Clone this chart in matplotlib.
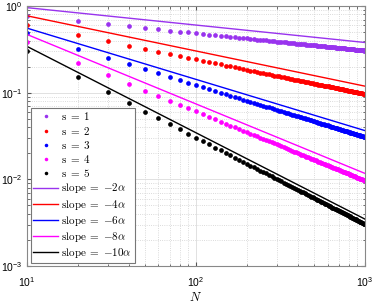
import matplotlib
matplotlib.use("Agg")
import matplotlib.pyplot as plt
from matplotlib.ticker import LogLocator, NullFormatter

plt.rcParams['font.family'] = ['Liberation Sans', 'DejaVu Sans']
plt.rcParams['mathtext.fontset'] = 'cm'

# N = 10, 20, ..., 1000
N = list(range(10, 1001, 10))

err_s1 = [0.770, 0.670, 0.618, 0.584, 0.558, 0.538, 0.522, 0.508, 0.496, 0.486,
          0.477, 0.468, 0.461, 0.454, 0.448, 0.442, 0.437, 0.432, 0.427, 0.423,
          0.419, 0.415, 0.411, 0.408, 0.404, 0.401, 0.398, 0.395, 0.393, 0.390,
          0.387, 0.385, 0.383, 0.380, 0.378, 0.376, 0.374, 0.372, 0.370, 0.368,
          0.366, 0.365, 0.363, 0.361, 0.360, 0.358, 0.357, 0.355, 0.354, 0.352,
          0.351, 0.349, 0.348, 0.347, 0.345, 0.344, 0.343, 0.342, 0.341, 0.340,
          0.338, 0.337, 0.336, 0.335, 0.334, 0.333, 0.332, 0.331, 0.330, 0.329,
          0.328, 0.327, 0.327, 0.326, 0.325, 0.324, 0.323, 0.322, 0.321, 0.321,
          0.320, 0.319, 0.318, 0.317, 0.317, 0.316, 0.315, 0.315, 0.314, 0.313,
          0.312, 0.312, 0.311, 0.310, 0.310, 0.309, 0.308, 0.308, 0.307, 0.307]

err_s2 = [0.609, 0.462, 0.392, 0.350, 0.320, 0.297, 0.280, 0.265, 0.253, 0.242,
          0.233, 0.225, 0.218, 0.212, 0.206, 0.201, 0.196, 0.192, 0.188, 0.184,
          0.180, 0.177, 0.174, 0.171, 0.168, 0.165, 0.163, 0.161, 0.158, 0.156,
          0.154, 0.152, 0.150, 0.149, 0.147, 0.145, 0.144, 0.142, 0.141, 0.139,
          0.138, 0.137, 0.135, 0.134, 0.133, 0.132, 0.131, 0.130, 0.128, 0.127,
          0.126, 0.125, 0.124, 0.123, 0.123, 0.122, 0.121, 0.120, 0.119, 0.118,
          0.118, 0.117, 0.116, 0.115, 0.115, 0.114, 0.113, 0.113, 0.112, 0.111,
          0.111, 0.110, 0.110, 0.109, 0.108, 0.108, 0.107, 0.107, 0.106, 0.106,
          0.105, 0.105, 0.104, 0.104, 0.103, 0.103, 0.102, 0.102, 0.101, 0.101,
          0.100, 0.0998, 0.0994, 0.0990, 0.0986, 0.0982, 0.0977, 0.0973, 0.0970, 0.0965]

err_s3 = [0.488, 0.322, 0.252, 0.212, 0.186, 0.167, 0.152, 0.140, 0.131, 0.123,
          0.116, 0.110, 0.105, 0.100, 0.0961, 0.0924, 0.0891, 0.0862, 0.0834, 0.0809,
          0.0786, 0.0764, 0.0744, 0.0725, 0.0707, 0.0691, 0.0676, 0.0661, 0.0647, 0.0634,
          0.0622, 0.0610, 0.0599, 0.0588, 0.0578, 0.0568, 0.0559, 0.0550, 0.0542, 0.0534,
          0.0526, 0.0518, 0.0511, 0.0504, 0.0497, 0.0491, 0.0485, 0.0479, 0.0473, 0.0467,
          0.0462, 0.0456, 0.0451, 0.0446, 0.0441, 0.0436, 0.0432, 0.0427, 0.0422, 0.0419,
          0.0414, 0.0410, 0.0406, 0.0403, 0.0399, 0.0395, 0.0392, 0.0388, 0.0385, 0.0381,
          0.0378, 0.0375, 0.0372, 0.0369, 0.0366, 0.0363, 0.0360, 0.0358, 0.0355, 0.0352,
          0.0350, 0.0347, 0.0345, 0.0342, 0.0340, 0.0337, 0.0335, 0.0333, 0.0330, 0.0328,
          0.0326, 0.0324, 0.0322, 0.0320, 0.0318, 0.0316, 0.0314, 0.0312, 0.0310, 0.0308]

err_s4 = [0.384, 0.221, 0.159, 0.127, 0.106, 0.0916, 0.0809, 0.0728, 0.0662, 0.0609,
          0.0564, 0.0526, 0.0493, 0.0465, 0.0440, 0.0418, 0.0398, 0.0380, 0.0364, 0.0350,
          0.0336, 0.0324, 0.0313, 0.0302, 0.0292, 0.0283, 0.0275, 0.0267, 0.0260, 0.0253,
          0.0246, 0.0240, 0.0234, 0.0229, 0.0223, 0.0218, 0.0214, 0.0209, 0.0205, 0.0201,
          0.0197, 0.0193, 0.0189, 0.0186, 0.0183, 0.0180, 0.0177, 0.0174, 0.0171, 0.0168,
          0.0166, 0.0163, 0.0160, 0.0158, 0.0156, 0.0153, 0.0151, 0.0149, 0.0147, 0.0145,
          0.0143, 0.0141, 0.0140, 0.0138, 0.0136, 0.0135, 0.0133, 0.0131, 0.0130, 0.0128,
          0.0127, 0.0126, 0.0124, 0.0123, 0.0121, 0.0120, 0.0119, 0.0118, 0.0117, 0.0115,
          0.0114, 0.0113, 0.0112, 0.0111, 0.0110, 0.0109, 0.0108, 0.0107, 0.0106, 0.0105,
          0.0104, 0.0103, 0.0102, 0.0101, 0.0100, 0.00998, 0.00989, 0.00981, 0.00973, 0.00965]

err_s5 = [0.303, 0.152, 0.101, 0.0758, 0.0606, 0.0505, 0.0433, 0.0379, 0.0337, 0.0303,
          0.0275, 0.0253, 0.0233, 0.0216, 0.0202, 0.0189, 0.0178, 0.0168, 0.0159, 0.0152,
          0.0144, 0.0138, 0.0132, 0.0126, 0.0121, 0.0117, 0.0112, 0.0108, 0.0104, 0.0101,
          0.00977, 0.00947, 0.00918, 0.00891, 0.00866, 0.00842, 0.00819, 0.00797, 0.00777, 0.00758,
          0.00739, 0.00721, 0.00705, 0.00689, 0.00673, 0.00659, 0.00645, 0.00631, 0.00618, 0.00606,
          0.00594, 0.00583, 0.00572, 0.00561, 0.00551, 0.00541, 0.00532, 0.00522, 0.00514, 0.00505,
          0.00497, 0.00489, 0.00481, 0.00473, 0.00466, 0.00459, 0.00452, 0.00446, 0.00439, 0.00433,
          0.00427, 0.00421, 0.00415, 0.00409, 0.00404, 0.00399, 0.00394, 0.00388, 0.00384, 0.00379,
          0.00374, 0.00370, 0.00365, 0.00361, 0.00356, 0.00352, 0.00348, 0.00344, 0.00340, 0.00337,
          0.00333, 0.00329, 0.00326, 0.00322, 0.00319, 0.00316, 0.00312, 0.00309, 0.00306, 0.00303]

# reference slope lines, end points at N = 10 and N = 1000
line_N = [10, 1000]
line_s1 = [0.96, 0.38]
line_s2 = [0.773, 0.119]
line_s3 = [0.557, 0.0365]
line_s4 = [0.471, 0.0117]
line_s5 = [0.343, 0.00347]

colors = ['#9933ee', '#ff0000', '#0000ff', '#ff00ff', '#000000']
dot_series = [err_s1, err_s2, err_s3, err_s4, err_s5]
line_series = [line_s1, line_s2, line_s3, line_s4, line_s5]
slopes = ['2', '4', '6', '8', '10']

fig = plt.figure(figsize=(3.74, 3.05), dpi=100)
ax = fig.add_axes([0.072, 0.128, 0.904, 0.852])

for i, (y, c) in enumerate(zip(dot_series, colors)):
    ax.plot(N, y, 'o', color=c, markersize=3.4, markeredgewidth=0,
            label=r'$\mathrm{s}\;=\;%d$' % (i + 1))
for y, c, sl in zip(line_series, colors, slopes):
    ax.plot(line_N, y, '-', color=c, linewidth=1.0,
            label=r'$\mathrm{slope}\;=\;{-}%s\alpha$' % sl)

ax.set_xscale('log')
ax.set_yscale('log')
ax.set_xlim(10, 1000)
ax.set_ylim(1e-3, 1)

ax.xaxis.set_minor_locator(LogLocator(base=10, subs=range(2, 10)))
ax.yaxis.set_minor_locator(LogLocator(base=10, subs=range(2, 10)))
ax.xaxis.set_minor_formatter(NullFormatter())
ax.yaxis.set_minor_formatter(NullFormatter())

ax.grid(True, which='major', color='#dcdcdc', linestyle='-', linewidth=0.6)
ax.grid(True, which='minor', color='#cfcfcf', linestyle=':', linewidth=0.6)
ax.set_axisbelow(True)

ax.tick_params(which='both', direction='in', top=True, right=True,
               color='#555555', labelsize=7.5, pad=3)
ax.tick_params(axis='x', which='major', pad=7)
ax.tick_params(which='major', length=3)
ax.tick_params(which='minor', length=1.8)
for sp in ax.spines.values():
    sp.set_color('#888888')
    sp.set_linewidth(0.8)

ax.set_xlabel(r'$N$', fontsize=9, labelpad=1)

leg = ax.legend(loc='lower left', bbox_to_anchor=(0.011, 0.011), fontsize=8,
                frameon=True, fancybox=False, edgecolor='#777777', framealpha=1,
                handlelength=2.25, handletextpad=0.25, labelspacing=0.2,
                borderpad=0.25, borderaxespad=0, markerscale=0.75)
leg.get_frame().set_linewidth(0.8)

fig.savefig('out.png', dpi=100)
